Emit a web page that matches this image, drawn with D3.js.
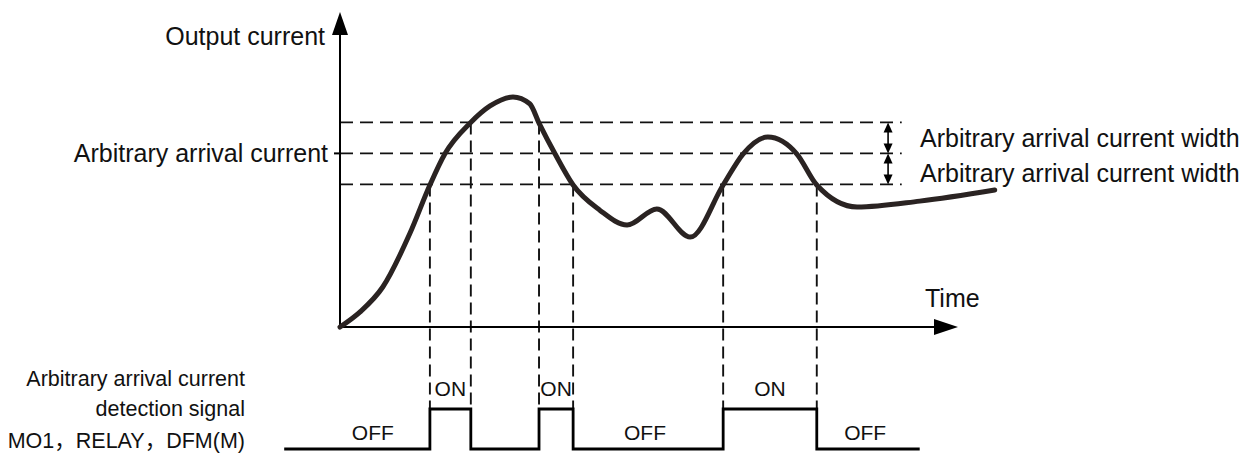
<!DOCTYPE html>
<html lang="en">
  <head>
    <meta charset="utf-8">
    <title>Arbitrary arrival current detection</title>
    <style media="screen">
      html, body {
        margin: 0;
        background: #fff;
        font-family: "Liberation Sans", Arial, "Noto Sans CJK SC", sans-serif;
      }
      svg {
        display: block;
      }
      .label {
        font-size: 25px;
        fill: #111;
      }
      .small-label {
        font-size: 21.5px;
        fill: #111;
      }
      .state {
        font-size: 21px;
        fill: #111;
      }
    </style>
    <script src="https://cdn.jsdelivr.net/npm/d3@7"></script>
  </head>
  <body>
    <svg id="chart" width="1259" height="457"></svg>
  </body>
  <script type="text/javascript">
  // output current curve (time, current)
  const curveTimes = [0, 3.2, 6.9, 11.3, 14.5, 16.9, 21.0, 24.2, 27.9, 30.6, 32.1, 34.7, 37.6, 41.9, 46.3, 51.1, 56.5, 61.8, 65.0, 69.0, 73.7, 76.9, 83.4, 93.5, 105.6];
  const curveValues = [0, 4.8, 12.9, 30.3, 45.8, 55.8, 65.8, 71.3, 74.2, 72.0, 65.8, 55.8, 45.8, 37.7, 32.9, 38.1, 29.0, 45.8, 55.8, 61.3, 55.8, 45.8, 38.7, 40.6, 44.2];

  // detection band
  const arrivalCurrent = 56;
  const arrivalWidth = 10;

  // ON intervals of the detection signal
  const onStarts = [14.5, 32.1, 61.8];
  const onEnds = [21.1, 37.6, 76.9];
  // which level each edge is dropped from
  const edgeLevels = [-1, 1, 1, -1, -1, -1];
  const offLabelTimes = [5.3, 49.2, 84.7];
  const signalSpan = [-9, 93.5];

  const xLabel = 'Time';
  const yLabel = 'Output current';
  const levelLabel = 'Arbitrary arrival current';
  const widthLabel = 'Arbitrary arrival current width';
  const signalLabels = ['Arbitrary arrival current', 'detection signal', 'MO1，RELAY，DFM(M)'];

  const svg = d3.select('#chart');

  const x = d3.scaleLinear().domain([0, 100]).range([340, 960]);
  const y = d3.scaleLinear().domain([0, 100]).range([327, 17]);
  const ySignal = d3.scaleLinear().domain([0, 1]).range([449, 409]);

  const levels = [arrivalCurrent - arrivalWidth, arrivalCurrent, arrivalCurrent + arrivalWidth];
  const dashEnd = 90.6;
  const arrowAt = 88.4;

  // horizontal dashed levels
  svg.append('g')
    .selectAll('line')
    .data(levels)
    .enter().append('line')
    .attr('x1', x(0))
    .attr('x2', x(dashEnd))
    .attr('y1', d => y(d))
    .attr('y2', d => y(d))
    .attr('stroke', '#111')
    .attr('stroke-width', 1.9)
    .attr('stroke-dasharray', '13,7');

  // vertical dashed drops from the curve crossings to the signal
  const edges = [];
  onStarts.forEach((s, i) => { edges.push(s, onEnds[i]); });
  svg.append('g')
    .selectAll('line')
    .data(edges)
    .enter().append('line')
    .attr('x1', d => x(d))
    .attr('x2', d => x(d))
    .attr('y1', (d, i) => y(arrivalCurrent + edgeLevels[i] * arrivalWidth))
    .attr('y2', ySignal(1))
    .attr('stroke', '#111')
    .attr('stroke-width', 1.9)
    .attr('stroke-dasharray', '12,6');

  // axes with arrow heads
  const axes = svg.append('g').attr('stroke', '#000').attr('stroke-width', 2);
  axes.append('line')
    .attr('x1', x(0)).attr('x2', x(0))
    .attr('y1', y(0)).attr('y2', y(95));
  axes.append('line')
    .attr('x1', x(0)).attr('x2', x(97))
    .attr('y1', y(0)).attr('y2', y(0));
  axes.append('line')
    .attr('x1', x(0) - 6).attr('x2', x(0))
    .attr('y1', y(arrivalCurrent)).attr('y2', y(arrivalCurrent));

  const yTop = y(100) - 5;
  svg.append('path')
    .attr('d', `M${x(0)},${yTop} L${x(0) - 8},${yTop + 23} L${x(0) + 8},${yTop + 23} Z`)
    .attr('fill', '#000');
  const xTip = x(100) - 2;
  svg.append('path')
    .attr('d', `M${xTip},${y(0)} L${xTip - 24},${y(0) - 8} L${xTip - 24},${y(0) + 8} Z`)
    .attr('fill', '#000');

  // output current curve
  const line = d3.line()
    .x(d => x(d[0]))
    .y(d => y(d[1]))
    .curve(d3.curveMonotoneX);
  svg.append('path')
    .datum(curveTimes.map((t, i) => [t, curveValues[i]]))
    .attr('d', line)
    .attr('fill', 'none')
    .attr('stroke', '#2a2322')
    .attr('stroke-width', 5)
    .attr('stroke-linecap', 'round')
    .attr('stroke-linejoin', 'round');

  // width arrows (double headed)
  function doubleArrow(v0, v1) {
    const ax = x(arrowAt);
    const g = svg.append('g');
    g.append('line')
      .attr('x1', ax).attr('x2', ax)
      .attr('y1', y(v0) + 8).attr('y2', y(v1) - 8)
      .attr('stroke', '#000').attr('stroke-width', 1.6);
    g.append('path')
      .attr('d', `M${ax},${y(v0)} L${ax - 4.5},${y(v0) + 10} L${ax + 4.5},${y(v0) + 10} Z`)
      .attr('fill', '#000');
    g.append('path')
      .attr('d', `M${ax},${y(v1)} L${ax - 4.5},${y(v1) - 10} L${ax + 4.5},${y(v1) - 10} Z`)
      .attr('fill', '#000');
  }
  doubleArrow(levels[2], levels[1]);
  doubleArrow(levels[1], levels[0]);

  // detection signal
  const signalPoints = [[signalSpan[0], 0]];
  onStarts.forEach((s, i) => {
    signalPoints.push([s, 1], [onEnds[i], 0]);
  });
  signalPoints.push([signalSpan[1], 0]);
  const step = d3.line()
    .x(d => x(d[0]))
    .y(d => ySignal(d[1]))
    .curve(d3.curveStepAfter);
  svg.append('path')
    .datum(signalPoints)
    .attr('d', step)
    .attr('fill', 'none')
    .attr('stroke', '#000')
    .attr('stroke-width', 2.8);

  svg.append('g')
    .selectAll('text')
    .data(onStarts)
    .enter().append('text')
    .attr('class', 'state')
    .attr('x', (d, i) => x((d + onEnds[i]) / 2))
    .attr('y', ySignal(1) - 13)
    .attr('text-anchor', 'middle')
    .text('ON');
  svg.append('g')
    .selectAll('text')
    .data(offLabelTimes)
    .enter().append('text')
    .attr('class', 'state')
    .attr('x', d => x(d))
    .attr('y', ySignal(0) - 9)
    .attr('text-anchor', 'middle')
    .text('OFF');

  // labels
  svg.append('text').attr('class', 'label')
    .attr('x', x(0) - 15).attr('y', 45)
    .attr('text-anchor', 'end')
    .text(yLabel);
  svg.append('text').attr('class', 'label')
    .attr('x', x(0) - 12).attr('y', y(arrivalCurrent) + 9)
    .attr('text-anchor', 'end')
    .text(levelLabel);
  svg.append('text').attr('class', 'label')
    .attr('x', 925).attr('y', y(0) - 20)
    .text(xLabel);
  svg.append('text').attr('class', 'label')
    .attr('x', 920).attr('y', (y(levels[2]) + y(levels[1])) / 2 + 9)
    .text(widthLabel);
  svg.append('text').attr('class', 'label')
    .attr('x', 920).attr('y', (y(levels[1]) + y(levels[0])) / 2 + 13)
    .text(widthLabel);

  svg.append('g')
    .selectAll('text')
    .data(signalLabels)
    .enter().append('text')
    .attr('class', 'small-label')
    .attr('x', 245)
    .attr('y', (d, i) => [386, 416, 448][i])
    .attr('text-anchor', 'end')
    .text(d => d);
  </script>
</html>
